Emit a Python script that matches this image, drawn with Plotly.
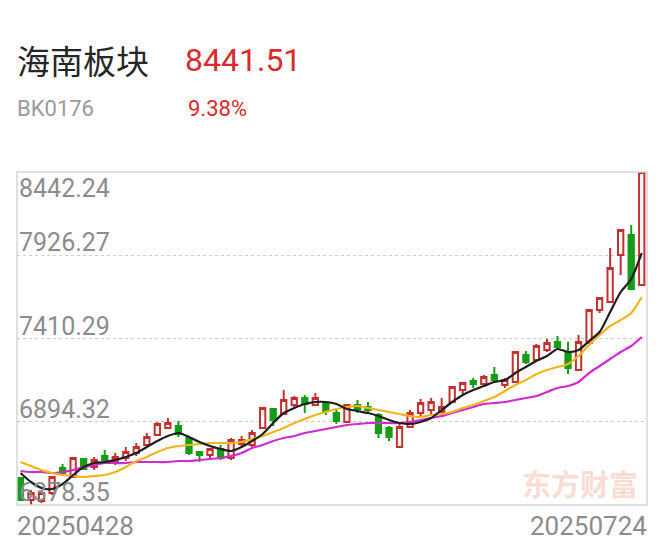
import plotly.graph_objects as go

dates = ["20250428", "20250429", "20250430",
         "20250506", "20250507", "20250508", "20250509",
         "20250512", "20250513", "20250514", "20250515", "20250516",
         "20250519", "20250520", "20250521", "20250522", "20250523",
         "20250526", "20250527", "20250528", "20250529", "20250530",
         "20250603", "20250604", "20250605", "20250606",
         "20250609", "20250610", "20250611", "20250612", "20250613",
         "20250616", "20250617", "20250618", "20250619", "20250620",
         "20250623", "20250624", "20250625", "20250626", "20250627",
         "20250630", "20250701", "20250702", "20250703", "20250704",
         "20250707", "20250708", "20250709", "20250710", "20250711",
         "20250714", "20250715", "20250716", "20250717", "20250718",
         "20250721", "20250722", "20250723", "20250724"]

opens = [6545.6, 6409.3, 6403.1, 6452.6, 6607.6, 6551.8, 6663.4, 6613.8, 6681.9, 6644.8,
         6669.6, 6700.6, 6750.2, 6812.3, 6855.5, 6867.9, 6793.7, 6706.8, 6688.2, 6725.4,
         6669.6, 6756.3, 6750.2, 6855.5, 6973.3, 6942.3, 6998.1, 7041.5, 6998.1, 7010.5,
         6948.5, 6892.7, 6998.1, 6985.7, 6936.1, 6855.5, 6737.8, 6861.7, 6948.5, 6967.1,
         6954.7, 7016.7, 7091.1, 7146.8, 7128.2, 7184.0, 7122.0, 7140.6, 7308.0, 7277.0,
         7339.0, 7388.6, 7320.4, 7215.0, 7382.4, 7586.9, 7636.5, 7927.8, 8051.8, 7741.8]
highs = [6551.8, 6471.2, 6465.0, 6558.0, 6632.4, 6675.8, 6669.6, 6675.8, 6719.2, 6700.6,
         6737.8, 6762.6, 6824.7, 6892.9, 6917.5, 6899.1, 6806.1, 6709.0, 6731.6, 6750.2,
         6793.5, 6806.0, 6843.1, 6985.7, 6979.5, 7091.1, 7053.9, 7060.1, 7072.5, 7022.9,
         6973.3, 7004.3, 7029.1, 7016.7, 6948.5, 6867.9, 6880.3, 6967.1, 7035.3, 7041.5,
         7041.5, 7115.9, 7140.7, 7165.4, 7184.0, 7233.6, 7165.4, 7332.8, 7332.8, 7376.2,
         7407.2, 7426.0, 7388.6, 7432.0, 7593.1, 7667.5, 7971.2, 8089.0, 8113.7, 8442.24]
lows = [6403.1, 6378.35, 6390.7, 6440.2, 6558.0, 6545.6, 6595.2, 6595.2, 6644.8, 6626.2,
        6651.0, 6682.0, 6737.8, 6806.1, 6849.3, 6799.9, 6688.2, 6644.8, 6669.6, 6657.2,
        6657.2, 6737.8, 6737.8, 6849.3, 6867.9, 6936.1, 6973.3, 6948.5, 6991.9, 6936.1,
        6880.5, 6886.5, 6948.5, 6948.5, 6793.7, 6775.0, 6731.6, 6855.5, 6929.9, 6936.1,
        6948.5, 7010.5, 7066.3, 7103.4, 7122.0, 7134.8, 7103.4, 7134.4, 7252.2, 7270.8,
        7326.6, 7345.2, 7190.2, 7208.8, 7376.2, 7568.3, 7630.3, 7803.8, 7710.0, 7735.7]
closes = [6409.3, 6452.6, 6452.6, 6551.8, 6576.6, 6669.6, 6601.4, 6657.2, 6657.2, 6675.8,
          6706.8, 6737.8, 6799.9, 6880.5, 6886.7, 6818.5, 6700.6, 6688.2, 6725.4, 6669.6,
          6781.1, 6781.1, 6824.7, 6979.5, 6905.1, 7029.1, 7041.5, 7004.3, 7041.5, 6960.9,
          6898.9, 6998.1, 6973.3, 6967.1, 6824.5, 6799.9, 6861.7, 6948.5, 7010.5, 7016.7,
          6985.7, 7109.7, 7134.5, 7128.2, 7171.6, 7153.0, 7153.0, 7326.6, 7264.6, 7363.8,
          7382.4, 7357.6, 7227.4, 7388.6, 7586.9, 7661.3, 7847.2, 8082.8, 7717.6, 8441.51]

ma5 = [6576.6, 6520.8, 6483.6, 6477.4, 6508.4, 6564.2, 6613.8, 6638.6, 6644.8, 6657.2,
       6675.8, 6700.6, 6737.8, 6775.0, 6806.0, 6824.7, 6799.9, 6768.9, 6744.0, 6725.4,
       6713.0, 6737.8, 6775.0, 6818.5, 6886.5, 6948.5, 6979.5, 7004.3, 7016.7, 7016.7,
       7004.3, 6973.3, 6960.9, 6948.5, 6929.9, 6905.1, 6886.5, 6880.3, 6892.7, 6917.5,
       6967.1, 7016.7, 7060.1, 7091.1, 7115.9, 7140.6, 7153.0, 7196.4, 7233.6, 7270.8,
       7301.8, 7345.2, 7326.6, 7339.0, 7394.8, 7450.6, 7574.5, 7698.5, 7779.0, 7940.2]
ma10 = [6644.8, 6620.0, 6595.2, 6576.6, 6564.2, 6558.0, 6551.8, 6558.0, 6564.2, 6582.8,
        6613.8, 6651.0, 6675.8, 6706.8, 6731.6, 6744.0, 6750.2, 6756.4, 6762.6, 6762.6,
        6762.6, 6768.8, 6787.3, 6806.0, 6830.8, 6855.5, 6886.5, 6911.3, 6936.1, 6954.7,
        6973.3, 6985.7, 6991.9, 6979.5, 6967.1, 6954.7, 6942.3, 6929.9, 6923.7, 6936.1,
        6942.3, 6954.7, 6979.5, 6998.1, 7022.9, 7047.7, 7084.9, 7122.0, 7153.0, 7190.2,
        7215.0, 7233.6, 7252.2, 7301.8, 7370.0, 7432.0, 7487.7, 7524.9, 7568.3, 7667.5]
ma20 = [6589.0, 6582.8, 6582.8, 6576.6, 6582.8, 6595.2, 6613.8, 6626.2, 6638.6, 6638.6,
        6638.6, 6644.8, 6644.8, 6644.8, 6644.8, 6651.0, 6651.0, 6657.2, 6663.4, 6669.6,
        6682.0, 6700.6, 6731.6, 6750.2, 6775.0, 6793.7, 6806.0, 6824.7, 6837.0, 6849.3,
        6861.7, 6874.1, 6880.3, 6886.5, 6886.5, 6886.5, 6886.5, 6892.7, 6905.1, 6917.5,
        6929.9, 6948.5, 6967.1, 6985.7, 7004.3, 7010.5, 7016.7, 7029.1, 7041.5, 7053.9,
        7078.7, 7103.4, 7115.9, 7140.6, 7196.4, 7239.8, 7283.2, 7326.6, 7363.8, 7419.5]

ytick_vals = [8442.24, 7926.27, 7410.29, 6894.32, 6378.35]
ytick_text = ["8442.24", "7926.27", "7410.29", "6894.32", "6378.35"]

title_name = "海南板块"
code = "BK0176"
last_price = "8441.51"
pct_change = "9.38%"

RED = "#c2312f"
GREEN = "#179c17"
GRAY = "#8c8c8c"

fig = go.Figure()
fig.add_trace(go.Candlestick(
    x=dates, open=opens, high=highs, low=lows, close=closes,
    increasing=dict(line=dict(color=RED, width=2), fillcolor="white"),
    decreasing=dict(line=dict(color=GREEN, width=2), fillcolor=GREEN),
    whiskerwidth=0, showlegend=False, hoverinfo="skip"))
for vals, col in [(ma20, "#d02ad0"), (ma10, "#f2b41c"), (ma5, "#1e1e1e")]:
    fig.add_trace(go.Scatter(x=dates, y=vals, mode="lines",
                             line=dict(color=col, width=2.2, shape="spline", smoothing=0.7),
                             showlegend=False, hoverinfo="skip"))

ymin, ymax = ytick_vals[-1], ytick_vals[0]
fig.update_layout(
    width=664, height=546,
    margin=dict(l=17, r=17, t=172, b=41),
    paper_bgcolor="white", plot_bgcolor="white",
    boxgap=0.28,
    xaxis=dict(type="category", range=[-0.33, len(dates) - 0.5], showticklabels=False,
               showgrid=False, zeroline=False, rangeslider=dict(visible=False), fixedrange=True),
    yaxis=dict(range=[ymin, ymax], tickvals=ytick_vals[1:-1], showticklabels=False,
               showgrid=True, gridcolor="#cccccc", griddash="dot", gridwidth=1,
               zeroline=False, fixedrange=True),
)

fig.add_shape(type="rect", xref="paper", yref="paper", x0=0, x1=1, y0=0, y1=1,
              line=dict(color="#d6d6d6", width=1.5), layer="above")

ann = []
for i, (v, t) in enumerate(zip(ytick_vals, ytick_text)):
    ann.append(dict(xref="paper", yref="y", x=0.0, y=v, text=t, showarrow=False,
                    xanchor="left", yanchor="top" if i == 0 else "bottom",
                    yshift=0 if i == 0 else -4,
                    font=dict(family="Roboto", size=25, color=GRAY)))
ann.append(dict(xref="paper", yref="paper", x=-0.003, y=-0.063, text=dates[0], showarrow=False,
                xanchor="left", yanchor="middle", font=dict(family="Roboto", size=26, color=GRAY)))
ann.append(dict(xref="paper", yref="paper", x=1.003, y=-0.063, text=dates[-1], showarrow=False,
                xanchor="right", yanchor="middle", font=dict(family="Roboto", size=26, color=GRAY)))
ann.append(dict(xref="paper", yref="paper", x=0.893, y=0.066, text="<b>东方财富</b>", showarrow=False,
                xanchor="center", yanchor="middle",
                font=dict(family="Noto Sans CJK SC", size=29, color="#f9ddd3")))
ann.append(dict(xref="paper", yref="paper", x=-0.003, y=1.336, text=title_name, showarrow=False,
                xanchor="left", yanchor="middle",
                font=dict(family="Noto Sans CJK SC", size=33, color="#262626")))
ann.append(dict(xref="paper", yref="paper", x=0.264, y=1.336, text=last_price, showarrow=False,
                xanchor="left", yanchor="middle", font=dict(family="Roboto", size=32, color="#d92b2b")))
ann.append(dict(xref="paper", yref="paper", x=-0.003, y=1.192, text=code, showarrow=False,
                xanchor="left", yanchor="middle", font=dict(family="Roboto", size=22, color="#9a9a9a")))
ann.append(dict(xref="paper", yref="paper", x=0.268, y=1.192, text=pct_change, showarrow=False,
                xanchor="left", yanchor="middle", font=dict(family="Roboto", size=22, color="#d92b2b")))
fig.update_layout(annotations=ann)

fig.write_html("out.html", config={"displayModeBar": False})
with open("out.html", "r", encoding="utf-8") as f:
    html = f.read()
html = html.replace("<body>", '<body style="margin:0;padding:0;">', 1)
with open("out.html", "w", encoding="utf-8") as f:
    f.write(html)
